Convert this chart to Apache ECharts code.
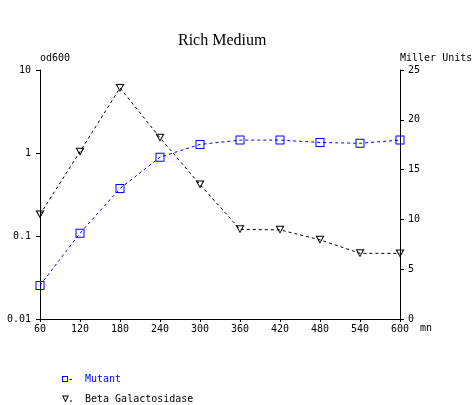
<!DOCTYPE html>
<html>
<head>
<meta charset="utf-8">
<script src="https://cdn.jsdelivr.net/npm/echarts@6/dist/echarts.min.js"></script>
<style>html,body{margin:0;padding:0;background:#fff}#c{width:472px;height:405px}</style>
</head>
<body>
<div id="c"></div>
<script>
var minutes = [60, 120, 180, 240, 300, 360, 420, 480, 540, 600];
var mutantOD = [0.0254, 0.108, 0.373, 0.89, 1.27, 1.43, 1.43, 1.34, 1.31, 1.43];
var betaGal = [10.5, 16.8, 23.2, 18.2, 13.5, 9.0, 8.95, 7.95, 6.6, 6.58];
var seriesNames = ['Mutant', 'Beta Galactosidase'];
var titleText = 'Rich Medium';

var MONO = 'DejaVu Sans Mono';
var squarePath = 'path://M0,0H9V9H0Z M1,1V8H8V1Z';
var triPath = 'path://M0,0L9,0L4.5,8Z M1.8,1L4.5,6.2L7.2,1Z';
var squareLegend = 'path://M0,0H6V6H0Z M1,1V5H5V1Z M7.5,3H10V4H7.5Z';
var triLegend = 'path://M0,0L7,0L3.5,7Z M1.5,1L3.5,5L5.5,1Z M8,5H10V6H8Z';

function pairs(xs, ys) { return xs.map(function (x, i) { return [x, ys[i]]; }); }

var chart = echarts.init(document.getElementById('c'), null, {renderer: 'canvas'});
chart.setOption({
  animation: false,
  backgroundColor: '#fff',
  title: {
    text: titleText, left: 178, top: 33, padding: 0,
    textStyle: {fontFamily: 'Liberation Serif', fontSize: 16, fontWeight: 'normal', color: '#000'}
  },
  grid: {left: 40, right: 72, top: 70, bottom: 86, containLabel: false, outerBoundsMode: 'none'},
  legend: {
    orient: 'vertical', left: 62, top: 374, height: 40, padding: 0, itemGap: 10,
    itemWidth: 10, itemHeight: 7,
    textStyle: {fontFamily: MONO, fontSize: 10, padding: [0, 0, 0, 8]},
    data: [
      {name: seriesNames[0], icon: squareLegend, textStyle: {color: '#0000ff'}},
      {name: seriesNames[1], icon: triLegend, textStyle: {color: '#000'}}
    ]
  },
  xAxis: {
    type: 'value', min: 60, max: 600, interval: 60,
    name: 'mn', nameLocation: 'end', nameGap: 20,
    nameTextStyle: {fontFamily: MONO, fontSize: 10, color: '#000', verticalAlign: 'top', padding: [4, 0, 0, 0]},
    axisLine: {lineStyle: {color: '#000', width: 1}},
    axisTick: {show: true, length: 3, lineStyle: {color: '#000'}},
    axisLabel: {fontFamily: MONO, fontSize: 10, color: '#000', margin: 5},
    splitLine: {show: false}
  },
  yAxis: [
    {
      type: 'log', logBase: 10, min: 0.01, max: 10, position: 'left',
      name: 'od600', nameLocation: 'end', nameGap: 7,
      nameTextStyle: {fontFamily: MONO, fontSize: 10, color: '#000', align: 'left'},
      axisLine: {show: true, lineStyle: {color: '#000', width: 1}},
      axisTick: {show: true, length: 4, lineStyle: {color: '#000'}},
      axisLabel: {fontFamily: MONO, fontSize: 10, color: '#000', margin: 9,
        formatter: function (v) { return String(parseFloat(Number(v).toPrecision(2))); }},
      splitLine: {show: false}, minorTick: {show: false}
    },
    {
      type: 'value', min: 0, max: 25, interval: 5, position: 'right',
      name: 'Miller Units', nameLocation: 'end', nameGap: 7,
      nameTextStyle: {fontFamily: MONO, fontSize: 10, color: '#000', align: 'left'},
      axisLine: {show: true, lineStyle: {color: '#000', width: 1}},
      axisTick: {show: true, length: 4, lineStyle: {color: '#000'}},
      axisLabel: {fontFamily: MONO, fontSize: 10, color: '#000', margin: 8},
      splitLine: {show: false}
    }
  ],
  series: [
    {
      name: seriesNames[0], type: 'line', yAxisIndex: 0,
      data: pairs(minutes, mutantOD),
      symbol: squarePath, symbolSize: 9,
      itemStyle: {color: '#0000ff'},
      lineStyle: {color: '#0000ff', width: 1, type: [3, 3]}
    },
    {
      name: seriesNames[1], type: 'line', yAxisIndex: 1,
      data: pairs(minutes, betaGal),
      symbol: triPath, symbolSize: [9, 8],
      itemStyle: {color: '#000'},
      lineStyle: {color: '#000', width: 1, type: [3, 3]}
    }
  ]
});
</script>
</body>
</html>
